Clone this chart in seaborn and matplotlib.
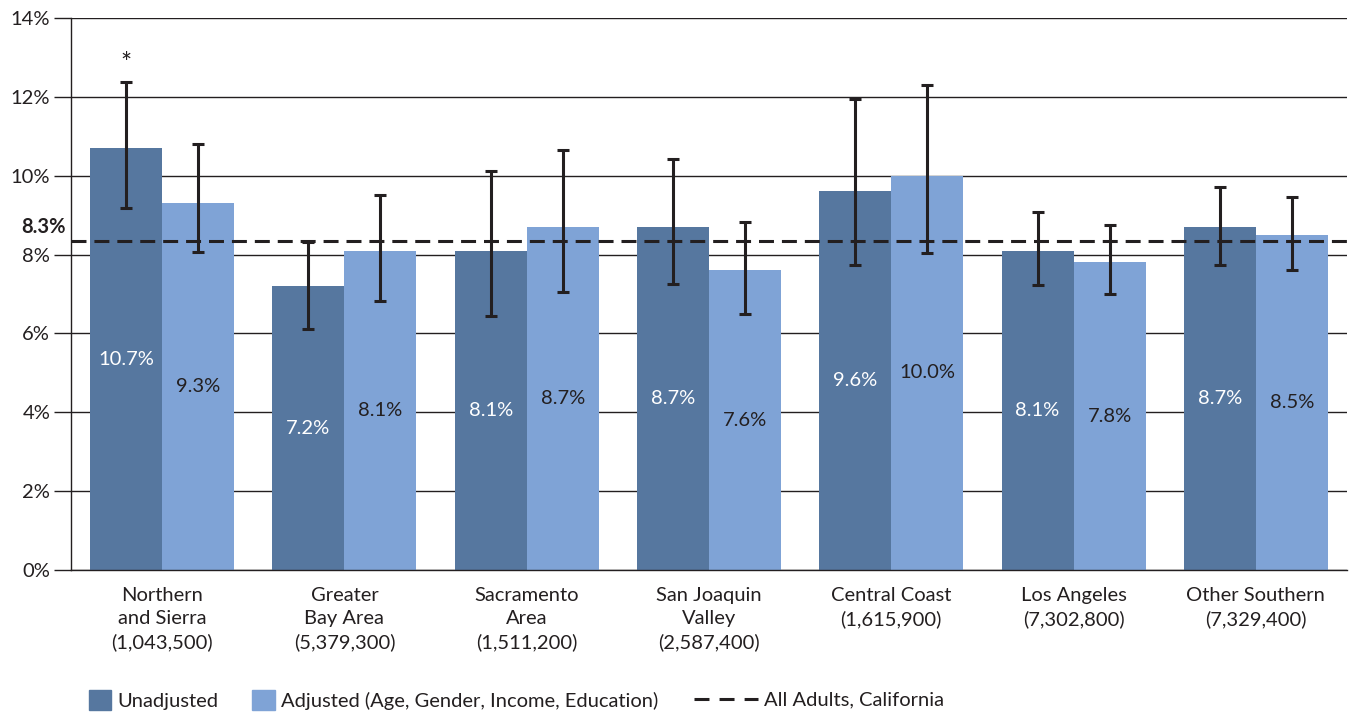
import matplotlib
matplotlib.use("Agg")

import matplotlib.pyplot as plt
from matplotlib.patches import Patch
from matplotlib.lines import Line2D
import numpy as np
import pandas as pd
import seaborn as sns

# data
regions = ["Northern\nand Sierra", "Greater\nBay Area", "Sacramento\nArea",
           "San Joaquin\nValley", "Central Coast", "Los Angeles", "Other Southern"]
populations = ["1,043,500", "5,379,300", "1,511,200", "2,587,400",
               "1,615,900", "7,302,800", "7,329,400"]
unadjusted = [10.7, 7.2, 8.1, 8.7, 9.6, 8.1, 8.7]
adjusted = [9.3, 8.1, 8.7, 7.6, 10.0, 7.8, 8.5]
unadj_low = [9.17, 6.10, 6.43, 7.25, 7.73, 7.22, 7.73]
unadj_high = [12.37, 8.31, 10.13, 10.42, 11.95, 9.08, 9.71]
adj_low = [8.07, 6.81, 7.04, 6.49, 8.04, 7.00, 7.62]
adj_high = [10.80, 9.50, 10.64, 8.83, 12.29, 8.76, 9.47]
ca_all = 8.35
ca_label = "8.3%"
series = ["Unadjusted", "Adjusted (Age, Gender, Income, Education)"]

DARK = "#56779f"
LIGHT = "#7fa3d6"
INK = "#231f20"
FS = 14.5

sns.set_theme(style="white")
plt.rcParams["font.family"] = ["Lato", "DejaVu Sans"]

df = pd.DataFrame({
    "region": regions * 2,
    "rate": unadjusted + adjusted,
    "series": [series[0]] * len(regions) + [series[1]] * len(regions),
})

fig = plt.figure(figsize=(13.53, 7.13), dpi=100)
ax = fig.add_axes([71 / 1353, 1 - 570 / 713, 1276 / 1353, 552 / 713])

sns.barplot(data=df, x="region", y="rate", hue="series", palette=[DARK, LIGHT],
            width=0.79, errorbar=None, saturation=1, legend=False, ax=ax,
            linewidth=0, zorder=2)

ax.set_ylim(0, 14)
ax.set_xlim(-0.5, len(regions) - 0.5)
ax.set_yticks(np.arange(0, 15, 2))
ax.set_yticklabels([f"{v}%" for v in range(0, 15, 2)], fontsize=FS, color=INK)
ax.set_xticks(range(len(regions)))
ax.set_xticklabels([f"{r}\n({p})" for r, p in zip(regions, populations)],
                   fontsize=FS, color=INK, linespacing=1.42)
ax.set_xticks(np.arange(-0.5, len(regions)), minor=True)
ax.tick_params(axis="x", which="major", length=0, pad=12)
ax.tick_params(axis="x", which="minor", length=62, width=1, color=INK, direction="out")
ax.tick_params(axis="y", length=12, width=1, color=INK, pad=3, left=True)
ax.yaxis.grid(True, color=INK, lw=1)
ax.set_axisbelow(True)
ax.set_xlabel("")
ax.set_ylabel("")
for side in ["top", "right"]:
    ax.spines[side].set_visible(False)
for side in ["left", "bottom"]:
    ax.spines[side].set_color(INK)
    ax.spines[side].set_linewidth(1)

# error bars and value labels
specs = [(unadjusted, unadj_low, unadj_high, "white"),
         (adjusted, adj_low, adj_high, INK)]
for cont, (vals, lo, hi, tc) in zip(ax.containers, specs):
    xs = [p.get_x() + p.get_width() / 2 for p in cont]
    v = np.array(vals)
    ax.errorbar(xs, v, yerr=[v - np.array(lo), np.array(hi) - v], fmt="none",
                ecolor=INK, elinewidth=2.2, capsize=4.5, capthick=2.2, zorder=4)
    for x, val in zip(xs, vals):
        ax.text(x, val / 2, f"{val:.1f}%", ha="center", va="center",
                fontsize=FS, color=tc, zorder=5)

# California average
ax.axhline(ca_all, color=INK, lw=2.2, dashes=(4.9, 2.6), zorder=3)
ax.annotate(ca_label, xy=(0, ca_all), xycoords=("axes fraction", "data"),
            xytext=(-4, 3), textcoords="offset points", ha="right", va="bottom",
            fontsize=FS, fontweight="bold", color=INK, annotation_clip=False)

# significance marker
first = ax.containers[0][0]
ax.text(first.get_x() + first.get_width() / 2, unadj_high[0] + 0.45, "*",
        ha="center", va="center", fontsize=19, color=INK)

# legend
fig.legend([Patch(color=DARK), Patch(color=LIGHT)], series,
           loc="center left", bbox_to_anchor=(89 / 1353, 1 - 700 / 713),
           ncol=2, frameon=False, fontsize=FS, handlelength=1.1,
           handleheight=1.1, handletextpad=0.3, columnspacing=1.7,
           borderpad=0, borderaxespad=0, labelcolor=INK)
fig.legend([Line2D([], [], color=INK, lw=2.2, dashes=(4.9, 3.3))],
           ["All Adults, California"], loc="center left",
           bbox_to_anchor=(694 / 1353, 1 - 700 / 713), frameon=False, fontsize=FS,
           handlelength=3.2, handletextpad=0.3, borderpad=0, borderaxespad=0,
           labelcolor=INK)

fig.savefig("out.png", dpi=100, facecolor="white")
